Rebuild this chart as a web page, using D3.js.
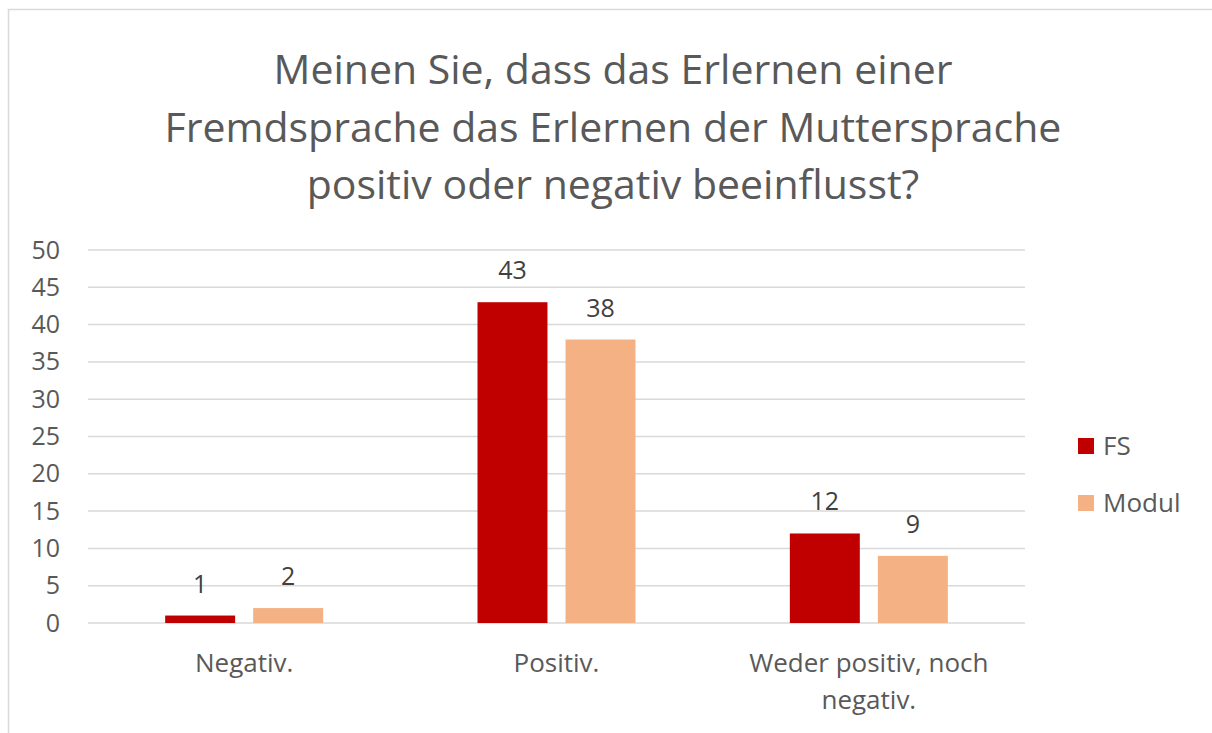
<!DOCTYPE html>
<html>
<head>
<meta charset="utf-8">
<script src="https://cdn.jsdelivr.net/npm/d3@7"></script>
<style>
  body { margin: 0; background: #fff; }
  svg { font-family: "Open Sans", "Noto Sans", sans-serif; }
</style>
</head>
<body>
<svg id="chart" width="1212" height="733"></svg>
<script>
var titleLines = ["Meinen Sie, dass das Erlernen einer",
                  "Fremdsprache das Erlernen der Muttersprache",
                  "positiv oder negativ beeinflusst?"];
var categories = ["Negativ.", "Positiv.", "Weder positiv, noch negativ."];
var seriesNames = ["FS", "Modul"];
var fsValues = [1, 43, 12];
var modulValues = [2, 38, 9];
var yTicks = [0, 5, 10, 15, 20, 25, 30, 35, 40, 45, 50];
var colors = ["#C00000", "#F4B183"];

var svg = d3.select("#chart");

// outer frame (right and bottom fall off the picture)
svg.append("rect")
  .attr("x", 8.5).attr("y", 9.5)
  .attr("width", 1220).attr("height", 740)
  .attr("fill", "none")
  .attr("stroke", "#d9d9d9")
  .attr("stroke-width", 1.5);

svg.append("g").selectAll("text")
  .data(titleLines)
  .enter().append("text")
    .attr("x", 613)
    .attr("y", function(d, i) { return 84 + i * 57.5; })
    .attr("text-anchor", "middle")
    .attr("font-size", 41)
    .attr("fill", "#595959")
    .text(function(d) { return d; });

var plotLeft = 88, plotRight = 1025, plotTop = 250, plotBottom = 623;

var x0 = d3.scaleBand().domain(categories).range([plotLeft, plotRight]);
var x1 = d3.scaleBand().domain(seriesNames).range([0, 158]).paddingInner(0.205);
var y = d3.scaleLinear().domain([0, 50]).range([plotBottom, plotTop]);

svg.append("g").selectAll("line")
  .data(yTicks)
  .enter().append("line")
    .attr("x1", plotLeft).attr("x2", plotRight)
    .attr("y1", function(d) { return y(d); })
    .attr("y2", function(d) { return y(d); })
    .attr("stroke", "#d9d9d9")
    .attr("stroke-width", 1.5);

var yAxis = svg.append("g")
  .attr("transform", "translate(60,0)")
  .call(d3.axisLeft(y).tickValues(yTicks).tickSize(0).tickPadding(0));
yAxis.select(".domain").remove();
yAxis.selectAll("text")
  .attr("font-family", "Open Sans, Noto Sans, sans-serif")
  .attr("font-size", 25)
  .attr("fill", "#595959");

var rows = categories.map(function(c, i) {
  return { cat: c, vals: [fsValues[i], modulValues[i]] };
});

var groups = svg.append("g").selectAll("g")
  .data(rows)
  .enter().append("g")
    .attr("transform", function(d) {
      return "translate(" + (x0(d.cat) + x0.bandwidth() / 2 - 79) + ",0)";
    });

groups.selectAll("rect")
  .data(function(d) { return d.vals.map(function(v, j) { return { s: seriesNames[j], v: v, j: j }; }); })
  .enter().append("rect")
    .attr("x", function(d) { return x1(d.s); })
    .attr("width", x1.bandwidth())
    .attr("y", function(d) { return y(d.v); })
    .attr("height", function(d) { return y(0) - y(d.v); })
    .attr("fill", function(d) { return colors[d.j]; });

groups.selectAll("text")
  .data(function(d) { return d.vals.map(function(v, j) { return { s: seriesNames[j], v: v }; }); })
  .enter().append("text")
    .attr("x", function(d) { return x1(d.s) + x1.bandwidth() / 2; })
    .attr("y", function(d) { return y(d.v) - 23; })
    .attr("text-anchor", "middle")
    .attr("font-size", 25)
    .attr("fill", "#404040")
    .text(function(d) { return d.v; });

// category labels, wrapped like the original
var catLines = [["Negativ."], ["Positiv."], ["Weder positiv, noch", "negativ."]];
svg.append("g").selectAll("text")
  .data(categories)
  .enter().append("text")
    .attr("text-anchor", "middle")
    .attr("font-size", 26)
    .attr("fill", "#595959")
    .each(function(d, i) {
      var t = d3.select(this);
      catLines[i].forEach(function(line, k) {
        t.append("tspan")
          .attr("x", x0(d) + x0.bandwidth() / 2)
          .attr("y", 672 + k * 37)
          .text(line);
      });
    });

var legend = svg.append("g").selectAll("g")
  .data(seriesNames)
  .enter().append("g")
    .attr("transform", function(d, i) { return "translate(1078," + (438 + i * 57) + ")"; });
legend.append("rect")
  .attr("width", 16).attr("height", 16)
  .attr("fill", function(d, i) { return colors[i]; });
legend.append("text")
  .attr("x", 25).attr("y", 17)
  .attr("font-size", 26)
  .attr("fill", "#595959")
  .text(function(d) { return d; });
</script>
</body>
</html>
